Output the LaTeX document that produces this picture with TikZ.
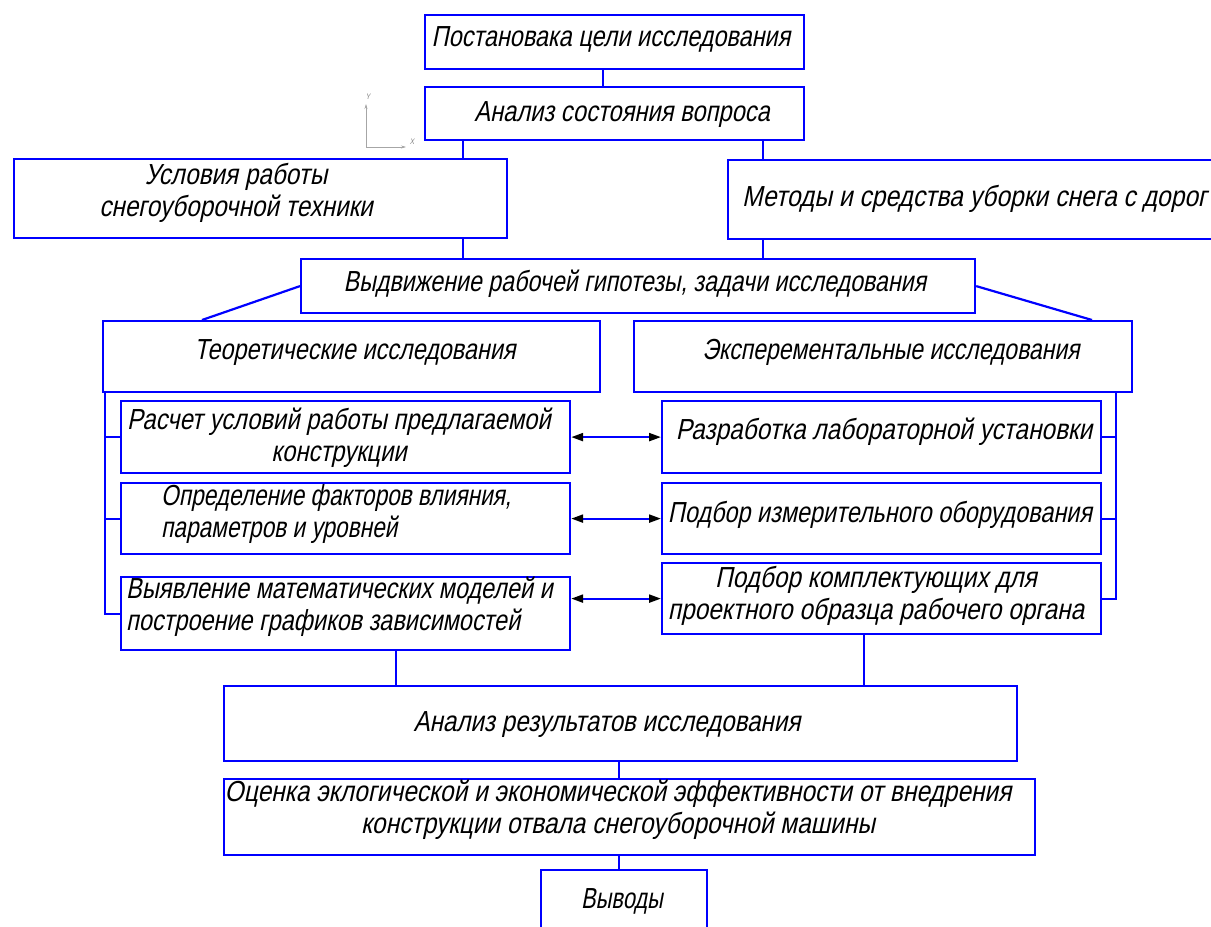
\documentclass[tikz,border=0pt]{standalone}
\usepackage{fontspec}
\setmainfont{Liberation Sans}[FakeStretch=0.8, FakeSlant=0.2]
\usetikzlibrary{arrows.meta}
\definecolor{cadblue}{RGB}{0,0,255}
\newcommand{\sxc}[2]{\scalebox{#1}[1]{\begin{tabular}{@{}c@{}}#2\end{tabular}}}
\newcommand{\sxl}[2]{\scalebox{#1}[1]{\begin{tabular}{@{}l@{}}#2\end{tabular}}}
\tikzset{
 box/.style={draw=cadblue, line width=2.2pt, inner sep=0pt, anchor=north west},
 txt/.style={text=black, inner sep=0pt, font=\fontsize{29}{32}\selectfont, align=center},
 link/.style={draw=cadblue, line width=2.2pt},
 dbl/.style={draw=cadblue, line width=2.2pt, {Triangle[black,length=12pt,width=8pt]}-{Triangle[black,length=12pt,width=8pt]}},
 axisline/.style={draw=gray!70, line width=0.6pt, -{Stealth[length=5pt,width=3pt]}},
 axislabel/.style={text=gray, inner sep=0pt, font=\fontsize{8}{8}\selectfont},
}
\begin{document}
\begin{tikzpicture}[x=1pt,y=-1pt]
\useasboundingbox (0,0) rectangle (1211,927);
\fill[white] (0,0) rectangle (1211,927);
\clip (0,0) rectangle (1211,927);

% boxes
\node[box, minimum width=379pt, minimum height=54pt] (b1) at (424,14) {};
\node[box, minimum width=379pt, minimum height=53pt] (b2) at (424,86) {};
\node[box, minimum width=493pt, minimum height=79pt] (b3) at (13,158) {};
\node[box, minimum width=500pt, minimum height=79pt] (b5) at (727,159) {};
\node[box, minimum width=674pt, minimum height=54pt] (b4) at (300,258) {};
\node[box, minimum width=497pt, minimum height=71pt] (th) at (102,320) {};
\node[box, minimum width=498pt, minimum height=71pt] (ex) at (633,320) {};
\node[box, minimum width=449pt, minimum height=72pt] (t1) at (120,400) {};
\node[box, minimum width=449pt, minimum height=71pt] (t2) at (120,482) {};
\node[box, minimum width=449pt, minimum height=73pt] (t3) at (120,576) {};
\node[box, minimum width=439pt, minimum height=72pt] (e1) at (661,400) {};
\node[box, minimum width=439pt, minimum height=71pt] (e2) at (661,482) {};
\node[box, minimum width=439pt, minimum height=71pt] (e3) at (661,562) {};
\node[box, minimum width=793pt, minimum height=75pt] (an) at (223,685) {};
\node[box, minimum width=811pt, minimum height=76pt] (oc) at (223,778) {};
\node[box, minimum width=166pt, minimum height=80pt] (vy) at (540,869) {};

% texts
\node[txt] (n1) at (611,40) {\sxc{1.01}{Постановака цели исследования}};
\node[txt] (n2) at (622,115) {\sxc{1.02}{Анализ состояния вопроса}};
\node[txt] (n3) at (236,194) {\sxc{1.045}{Условия работы\\снегоуборочной техники}};
\node[txt, anchor=west] (n5) at (742,200) {\sxc{1.06}{Методы и средства уборки снега с дорог}};
\node[txt] (n4) at (635,285) {\sxc{1.0}{Выдвижение рабочей гипотезы, задачи исследования}};
\node[txt] (nth) at (355,353) {\sxc{1.01}{Теоретические исследования}};
\node[txt] (nex) at (891,353) {\sxc{0.99}{Эксперементальные исследования}};
\node[txt] (nt1) at (339,439) {\sxc{1.025}{Расчет условий работы предлагаемой\\конструкции}};
\node[txt, anchor=west] (nt2) at (161,515) {\sxl{0.975}{Определение факторов влияния,\\параметров и уровней}};
\node[txt, anchor=west] (nt3) at (126,608) {\sxl{1.01}{Выявление математических моделей и\\построение графиков зависимостей}};
\node[txt] (ne1) at (884,433) {\sxc{1.05}{Разработка лабораторной установки}};
\node[txt] (ne2) at (880,516) {\sxc{1.01}{Подбор измерительного оборудования}};
\node[txt] (ne3) at (876,597) {\sxc{1.05}{Подбор комплектующих для\\проектного образца рабочего органа}};
\node[txt] (nan) at (607,725) {\sxc{1.04}{Анализ результатов исследования}};
\node[txt] (noc) at (618,811) {\sxc{1.054}{Оценка эклогической и экономической эффективности от внедрения\\конструкции отвала снегоуборочной машины}};
\node[txt] (nvy) at (622,902) {\sxc{0.94}{Выводы}};

% x positions of connectors
\coordinate (x603) at (603,0);
\coordinate (x463) at (463,0);
\coordinate (x763) at (763,0);
\coordinate (x202) at (202,0);
\coordinate (x1092) at (1092,0);
\coordinate (xL) at (105,0);
\coordinate (xR) at (1116,0);
\coordinate (x396) at (396,0);
\coordinate (x864) at (864,0);
\coordinate (x619) at (619,0);

% connectors
\draw[link] (b1.south -| x603) -- (b2.north -| x603);
\draw[link] (b2.south -| x463) -- (b3.north -| x463);
\draw[link] (b2.south -| x763) -- (b5.north -| x763);
\draw[link] (b3.south -| x463) -- (b4.north -| x463);
\draw[link] (b5.south -| x763) -- (b4.north -| x763);
\draw[link] (b4.west) -- (th.north -| x202);
\draw[link] (b4.east) -- (ex.north -| x1092);

\draw[link] (th.south -| xL) |- (t3.west);
\draw[link] (xL |- t1.west) -- (t1.west);
\draw[link] (xL |- t2.west) -- (t2.west);
\draw[link] (ex.south -| xR) |- (e3.east);
\draw[link] (xR |- e1.east) -- (e1.east);
\draw[link] (xR |- e2.east) -- (e2.east);

\draw[dbl] (t1.east) -- (e1.west);
\draw[dbl] (t2.east) -- (e2.west);
\draw[dbl] (t3.east |- e3.west) -- (e3.west);

\draw[link] (t3.south -| x396) -- (an.north -| x396);
\draw[link] (e3.south -| x864) -- (an.north -| x864);
\draw[link] (an.south -| x619) -- (oc.north -| x619);
\draw[link] (oc.south -| x619) -- (vy.north -| x619);

% coordinate axes icon
\coordinate (ax0) at (366,147);
\coordinate (axy) at (366,104);
\coordinate (axx) at (406,147);
\draw[axisline] (ax0) -- (axy);
\draw[axisline] (ax0) -- (axx);
\node[axislabel] (ylab) at (368,97) {Y};
\node[axislabel] (xlab) at (412,142) {X};
\end{tikzpicture}
\end{document}
